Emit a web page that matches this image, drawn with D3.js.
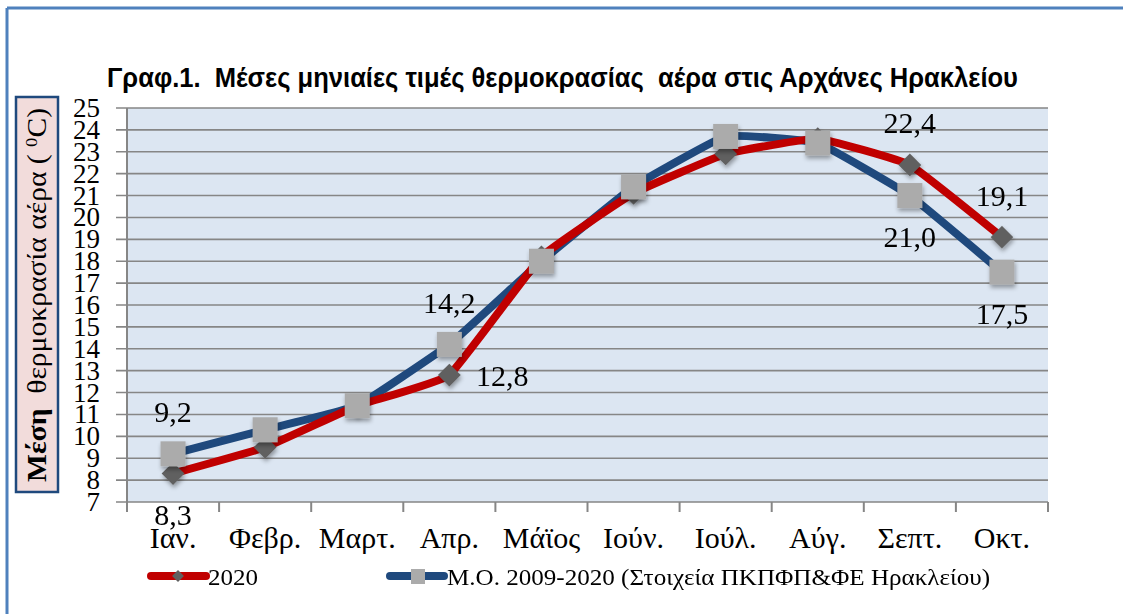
<!DOCTYPE html>
<html>
<head>
<meta charset="utf-8">
<script src="https://cdn.jsdelivr.net/npm/d3@7"></script>
<style>
  body { margin: 0; background: #fff; }
  svg { display: block; }
  text { white-space: pre; }
</style>
</head>
<body>
<svg id="chart" width="1123" height="614"></svg>
<script>
// data
var months = ["Ιαν.", "Φεβρ.", "Μαρτ.", "Απρ.", "Μάϊος", "Ιούν.", "Ιούλ.", "Αύγ.", "Σεπτ.", "Οκτ."];
var temp2020 = [8.3, 9.5, 11.4, 12.8, 18.2, 21.1, 22.9, 23.6, 22.4, 19.1];
var tempAvg = [9.2, 10.3, 11.4, 14.2, 18.0, 21.4, 23.7, 23.4, 21.0, 17.5];
var yTicks = d3.range(7, 26);
var seriesNames = ["2020", "Μ.Ο. 2009-2020 (Στοιχεία ΠΚΠΦΠ&ΦΕ Ηρακλείου)"];
// which points carry a value label, and where
var labels2020 = [{i: 0, pos: "below"}, {i: 3, pos: "right"}, {i: 8, pos: "above"}, {i: 9, pos: "above"}];
var labelsAvg = [{i: 0, pos: "above"}, {i: 3, pos: "above"}, {i: 8, pos: "below"}, {i: 9, pos: "below"}];

var svg = d3.select("#chart");
var plotL = 127, plotR = 1048, plotT = 108, plotB = 502;
var serif = "'Liberation Serif', 'DejaVu Serif', serif";

var fmt = d3.formatLocale({decimal: ",", thousands: ".", grouping: [3], currency: ["", "€"]}).format(".1f");

var x = d3.scaleBand().domain(months).range([plotL, plotR]);
var y = d3.scaleLinear().domain([7, 25]).range([plotB, plotT]);
var cx = i => x(months[i]) + x.bandwidth() / 2;

// shadow for markers
var defs = svg.append("defs");
var f = defs.append("filter").attr("id", "shadow")
  .attr("x", "-50%").attr("y", "-50%").attr("width", "200%").attr("height", "200%");
f.append("feDropShadow").attr("dx", 1).attr("dy", 3).attr("stdDeviation", 2)
  .attr("flood-color", "#000").attr("flood-opacity", 0.35);

// outer frame (top and left only visible)
svg.append("line").attr("x1", 7).attr("x2", 1123).attr("y1", 8).attr("y2", 8)
  .attr("stroke", "#4f81bd").attr("stroke-width", 3);
svg.append("line").attr("x1", 7).attr("x2", 7).attr("y1", 8).attr("y2", 614)
  .attr("stroke", "#4f81bd").attr("stroke-width", 3);

// title
svg.append("text")
  .attr("x", 107).attr("y", 87)
  .attr("textLength", 911).attr("lengthAdjust", "spacingAndGlyphs")
  .style("font-family", "'Liberation Sans', Arial, sans-serif")
  .style("font-weight", "bold").style("font-size", "27px")
  .text("Γραφ.1.  Μέσες μηνιαίες τιμές θερμοκρασίας  αέρα στις Αρχάνες Ηρακλείου");

// plot background
svg.append("rect").attr("x", plotL).attr("y", plotT)
  .attr("width", plotR - plotL).attr("height", plotB - plotT)
  .attr("fill", "#dce6f2");

// gridlines with outside ticks
svg.append("g").selectAll("line").data(yTicks).join("line")
  .attr("x1", plotL - 11).attr("x2", plotR)
  .attr("y1", d => y(d)).attr("y2", d => y(d))
  .attr("stroke", "#868686").attr("stroke-width", 1.6);

// y axis line
svg.append("line").attr("x1", plotL).attr("x2", plotL).attr("y1", plotT).attr("y2", plotB + 10)
  .attr("stroke", "#868686").attr("stroke-width", 2);

// category ticks
svg.append("g").selectAll("line").data(months.concat(["end"])).join("line")
  .attr("x1", (d, i) => plotL + i * x.bandwidth()).attr("x2", (d, i) => plotL + i * x.bandwidth())
  .attr("y1", plotB).attr("y2", plotB + 10)
  .attr("stroke", "#868686").attr("stroke-width", 2);

// y tick labels (tall and tightly packed like the original)
svg.append("g").selectAll("text").data(yTicks).join("text")
  .attr("x", 100).attr("y", d => y(d))
  .attr("text-anchor", "end").attr("dominant-baseline", "central")
  .style("font-family", serif).style("font-size", "27px")
  .text(d => d);

// x labels
svg.append("g").selectAll("text").data(months).join("text")
  .attr("x", d => x(d) + x.bandwidth() / 2).attr("y", 548)
  .attr("text-anchor", "middle")
  .style("font-family", serif).style("font-size", "30px")
  .text(d => d);

// y axis title box
svg.append("rect").attr("x", 16).attr("y", 97).attr("width", 42).attr("height", 395)
  .attr("fill", "#f2dcdb").attr("stroke", "#1f497d").attr("stroke-width", 2.5);
var yt = svg.append("text")
  .attr("transform", "translate(46,482) rotate(-90)")
  .attr("textLength", 374).attr("lengthAdjust", "spacingAndGlyphs")
  .style("font-family", serif).style("font-size", "27px");
yt.append("tspan").style("font-weight", "bold").text("Μέση  ");
yt.append("tspan").text("θερμοκρασία αέρα ( ");
yt.append("tspan").attr("baseline-shift", "super").style("font-size", "17px").text("0");
yt.append("tspan").text("C)");

var line = d3.line()
  .x((d, i) => cx(i))
  .y(d => y(d))
  .curve(d3.curveCardinal.tension(0.7));

svg.append("path").datum(tempAvg).attr("d", line)
  .attr("fill", "none").attr("stroke", "#1f497d").attr("stroke-width", 8)
  .attr("stroke-linejoin", "round");
svg.append("path").datum(temp2020).attr("d", line)
  .attr("fill", "none").attr("stroke", "#c00000").attr("stroke-width", 8)
  .attr("stroke-linejoin", "round");

// diamonds
svg.append("g").attr("filter", "url(#shadow)").selectAll("path").data(temp2020).join("path")
  .attr("d", d3.symbol().type(d3.symbolSquare).size(260))
  .attr("transform", (d, i) => "translate(" + cx(i) + "," + y(d) + ") rotate(45)")
  .attr("fill", "#606060");

// squares
svg.append("g").attr("filter", "url(#shadow)").selectAll("rect").data(tempAvg).join("rect")
  .attr("x", (d, i) => cx(i) - 12.5)
  .attr("y", d => y(d) - 12.5)
  .attr("width", 25).attr("height", 25)
  .attr("fill", "#ababab");

// value labels
function offset(pos) {
  if (pos === "above") return [0, -42];
  if (pos === "below") return [0, 41];
  return [53, 0];
}
function drawLabels(list, values) {
  svg.append("g").selectAll("text").data(list).join("text")
    .attr("x", d => cx(d.i) + offset(d.pos)[0])
    .attr("y", d => y(values[d.i]) + offset(d.pos)[1])
    .attr("text-anchor", "middle").attr("dominant-baseline", "central")
    .style("font-family", serif).style("font-size", "30px")
    .text(d => fmt(values[d.i]));
}
drawLabels(labels2020, temp2020);
drawLabels(labelsAvg, tempAvg);

// legend
var lg = svg.append("g");
lg.append("line").attr("x1", 151).attr("x2", 206).attr("y1", 576).attr("y2", 576)
  .attr("stroke", "#c00000").attr("stroke-width", 8).attr("stroke-linecap", "round");
lg.append("path").attr("d", d3.symbol().type(d3.symbolSquare).size(70))
  .attr("transform", "translate(178,576) rotate(45)").attr("fill", "#606060");
lg.append("text").attr("x", 208).attr("y", 577).attr("dominant-baseline", "central")
  .attr("textLength", 50).attr("lengthAdjust", "spacingAndGlyphs")
  .style("font-family", serif).style("font-size", "24px")
  .text(seriesNames[0]);
lg.append("line").attr("x1", 390).attr("x2", 444).attr("y1", 576).attr("y2", 576)
  .attr("stroke", "#1f497d").attr("stroke-width", 8).attr("stroke-linecap", "round");
lg.append("rect").attr("x", 411).attr("y", 569).attr("width", 14).attr("height", 15)
  .attr("fill", "#ababab");
lg.append("text").attr("x", 447).attr("y", 577).attr("dominant-baseline", "central")
  .attr("textLength", 543).attr("lengthAdjust", "spacingAndGlyphs")
  .style("font-family", serif).style("font-size", "24px")
  .text(seriesNames[1]);
</script>
</body>
</html>
